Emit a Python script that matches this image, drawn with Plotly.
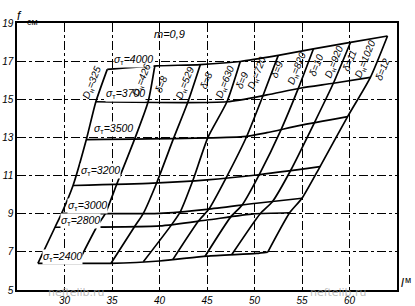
import numpy as np
import plotly.graph_objects as go

# --- data ---
sigma_levels = [2400, 2800, 3000, 3200, 3500, 3700, 4000]
sigma_label_text = ["2400", "2800", "3000", "3200", "3500", "3700", "4000"]

s2400_x = [27.2, 34.8, 40.0, 45.0, 50.2, 51.4]
s2400_y = [6.40, 6.40, 6.52, 6.78, 6.92, 6.99]
s2800_x = [29.0, 40.0, 45.0, 49.9, 53.7]
s2800_y = [8.29, 8.36, 8.67, 8.99, 9.05]
s3000_x = [29.7, 40.0, 45.0, 50.2, 55.0]
s3000_y = [9.02, 9.02, 9.23, 9.55, 9.81]
s3200_x = [30.9, 39.3, 45.0, 50.2, 56.9]
s3200_y = [10.48, 10.60, 10.77, 11.03, 11.47]
s3500_x = [32.3, 48.8, 51.3, 54.8, 59.8]
s3500_y = [12.89, 13.04, 13.25, 13.63, 14.09]
s3700_x = [33.3, 47.1, 51.3, 54.8, 58.3, 62.2]
s3700_y = [14.87, 14.87, 15.23, 15.58, 15.84, 16.15]
s4000_x = [34.5, 39.7, 44.3, 48.5, 52.5, 56.2, 60.1, 64.0]
s4000_y = [16.57, 16.75, 16.82, 16.98, 17.30, 17.64, 17.98, 18.32]

sigma_x = [s2400_x, s2800_x, s3000_x, s3200_x, s3500_x, s3700_x, s4000_x]
sigma_y = [s2400_y, s2800_y, s3000_y, s3200_y, s3500_y, s3700_y, s4000_y]

# pipe lines: x where each crosses the sigma curves (2400 ... 4000)
d_values = [325, 426, 529, 630, 720, 820, 920, 1020]
delta_values = [None, 8, 8, 9, 9, 10, 11, 12]
d325_x = [27.2, 29.0, 29.7, 30.9, 32.3, 33.3, 34.5]
d426_x = [31.4, 33.4, 34.3, 35.5, 37.4, 38.8, 39.5]
d529_x = [34.9, 37.4, 38.3, 39.7, 41.5, 43.0, 44.3]
d630_x = [38.3, 41.3, 42.2, 43.5, 45.1, 47.1, 48.5]
d720_x = [41.4, 44.1, 45.2, 47.0, 49.2, 50.9, 52.5]
d820_x = [44.8, 47.5, 48.7, 50.5, 52.8, 54.6, 56.2]
d920_x = [47.6, 50.6, 51.9, 53.8, 56.3, 58.3, 60.1]
d1020_x = [51.4, 53.7, 55.0, 56.9, 59.8, 62.2, 64.0]
d_lines_x = [d325_x, d426_x, d529_x, d630_x, d720_x, d820_x, d920_x, d1020_x]

x_ticks = [30, 35, 40, 45, 50, 55, 60]
y_ticks = [5, 7, 9, 11, 13, 15, 17, 19]

# label placement (layout only)
sig_lab_x = [27.6, 29.5, 30.3, 31.6, 33.0, 34.3, 35.1]
sig_lab_y = [6.73, 8.62, 9.40, 11.24, 13.44, 15.28, 17.06]
d_lab_x = [32.86, 38.13, 42.68, 46.89, 50.26, 54.5, 58.37, 61.7]
d_lab_y = [15.87, 16.01, 15.87, 15.92, 16.39, 16.63, 16.97, 17.10]
dl_lab_x = [None, 40.13, 44.89, 48.65, 52.4, 56.55, 59.98, 63.45]
dl_lab_y = [None, 15.80, 16.01, 16.01, 16.54, 16.80, 17.06, 16.57]

fig = go.Figure()
LW = 1.7
for xs, ys in zip(sigma_x, sigma_y):
    fig.add_trace(go.Scatter(x=xs, y=ys, mode="lines",
                             line=dict(color="black", width=LW, shape="spline", smoothing=0.6),
                             hoverinfo="skip", showlegend=False))

for xs in d_lines_x:
    ys = [float(np.interp(xv, sx, sy)) for xv, sx, sy in zip(xs, sigma_x, sigma_y)]
    fig.add_trace(go.Scatter(x=xs, y=ys, mode="lines",
                             line=dict(color="black", width=LW, shape="spline", smoothing=0.6),
                             hoverinfo="skip", showlegend=False))

FONT = "Liberation Sans"
SUB_T = "<sub><span style='font-style:normal'>т</span></sub>"
SUB_N = "<sub><span style='font-style:normal'>н</span></sub>"
ann = []
for lv, t, lx, ly in zip(sigma_levels, sigma_label_text, sig_lab_x, sig_lab_y):
    ann.append(dict(x=lx, y=ly, xref="x", yref="y", text="σ" + SUB_T + "=" + t,
                    showarrow=False, xanchor="left", yanchor="middle",
                    font=dict(family=FONT, size=10.5, color="black", style="italic"),
                    bgcolor="white", borderpad=0))
for d, lx, ly in zip(d_values, d_lab_x, d_lab_y):
    ann.append(dict(x=lx, y=ly, xref="x", yref="y", text="D" + SUB_N + "=" + str(d),
                    showarrow=False, textangle=-68,
                    font=dict(family=FONT, size=10, color="black", style="italic")))
for dl, lx, ly in zip(delta_values, dl_lab_x, dl_lab_y):
    if dl is None:
        continue
    ann.append(dict(x=lx, y=ly, xref="x", yref="y", text="δ=" + str(dl),
                    showarrow=False, textangle=-68,
                    font=dict(family=FONT, size=10, color="black", style="italic")))

ann.append(dict(x=41.1, y=18.42, xref="x", yref="y", text="m=0,9", showarrow=False,
                font=dict(family=FONT, size=11, color="black", style="italic")))
# texts outside the plotting area: paper coordinates
ann.append(dict(x=-0.005, y=1.06, xref="paper", yref="paper", text="f", showarrow=False,
                font=dict(family=FONT, size=12, color="black", style="italic")))
ann.append(dict(x=0.02, y=1.03, xref="paper", yref="paper", text="см", showarrow=False,
                font=dict(family=FONT, size=9, color="black")))
ann.append(dict(x=1.024, y=-0.008, xref="paper", yref="paper", text="l", showarrow=False,
                font=dict(family=FONT, size=12, color="black", style="italic")))
ann.append(dict(x=1.043, y=0.01, xref="paper", yref="paper", text="м", showarrow=False,
                font=dict(family=FONT, size=9, color="black")))
ann.append(dict(x=0.075, y=-0.043, xref="paper", yref="paper", text="neftelib.ru", showarrow=False,
                font=dict(family="DejaVu Sans", size=11, color="rgba(160,160,160,0.7)")))
ann.append(dict(x=0.925, y=-0.043, xref="paper", yref="paper", text="neftelib.ru", showarrow=False,
                font=dict(family="DejaVu Sans", size=11, color="rgba(160,160,160,0.7)")))

axis_common = dict(showgrid=True, gridcolor="black", gridwidth=0.8, griddash="dashdot",
                   showline=True, linecolor="black", linewidth=1.5, mirror=True,
                   ticks="", zeroline=False, automargin=False,
                   tickfont=dict(family=FONT, size=10, color="black", style="italic"))

fig.update_layout(
    width=415, height=306,
    margin=dict(l=17, r=18, t=23, b=16),
    plot_bgcolor="white", paper_bgcolor="white",
    xaxis=dict(range=[25, 65], tickvals=x_ticks, ticktext=[str(v) for v in x_ticks], **axis_common),
    yaxis=dict(range=[5, 19], tickvals=y_ticks, ticktext=[str(v) for v in y_ticks], **axis_common),
    annotations=ann,
)

fig.write_html("out.html")
